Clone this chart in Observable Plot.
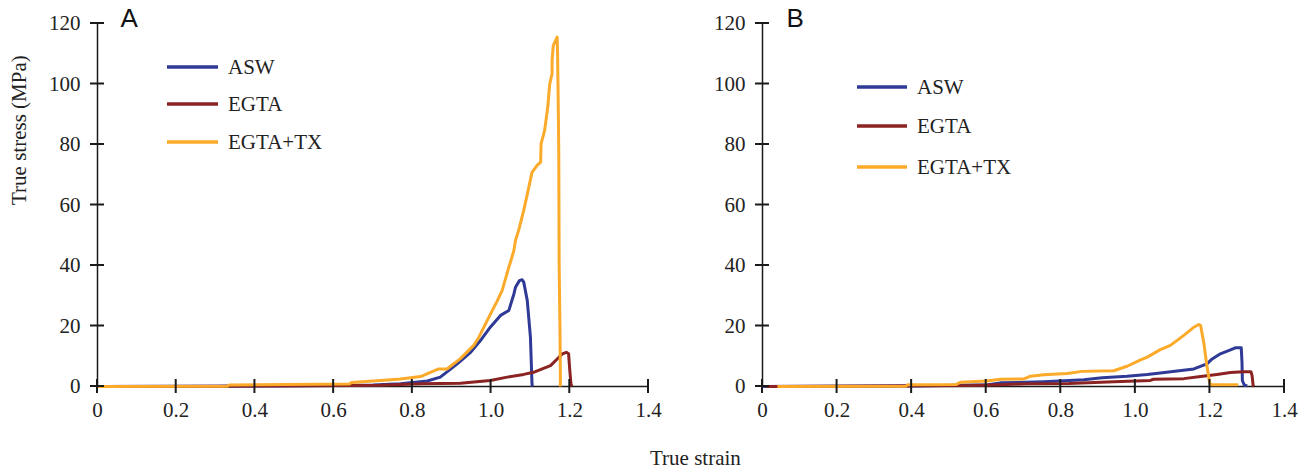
<!DOCTYPE html>
<html><head><meta charset="utf-8">
<script src="https://cdn.jsdelivr.net/npm/d3@7"></script>
<script src="https://cdn.jsdelivr.net/npm/@observablehq/plot@0.6"></script>
<style>
body{margin:0;background:#fff;}
#wrap{position:relative;width:1308px;height:475px;overflow:hidden;}
.panel{position:absolute;top:0;}
#xlabel{position:absolute;left:650px;top:446px;font-family:"Liberation Serif","Times New Roman",serif;font-size:21px;color:#222;white-space:nowrap;}
</style></head><body>
<div id="wrap">
  <div id="a" class="panel" style="left:0px"></div>
  <div id="b" class="panel" style="left:660px"></div>
  <div id="xlabel">True strain</div>
</div>
<script>
// ---- data: [true strain, true stress (MPa)] ----
const aswA = [[0,0],[0.3,0.1],[0.608,0.3],[0.70,0.5],[0.77,0.9],[0.838,1.8],[0.871,3.1],[0.914,7.5],[0.948,11.3],[0.973,15.2],[0.998,19.6],[1.024,23.5],[1.045,25.1],[1.058,30.6],[1.062,32.8],[1.072,35],[1.079,35.3],[1.083,34.5],[1.092,28.4],[1.1,16.3],[1.104,0.9],[1.105,0]];
const egtaA = [[0.01,0],[0.3,0.1],[0.64,0.3],[0.719,0.4],[0.823,0.9],[0.922,1.1],[0.998,2.0],[1.041,3.1],[1.083,4.0],[1.108,4.7],[1.13,5.8],[1.151,6.9],[1.168,9.1],[1.181,10.8],[1.191,11.3],[1.197,10.8],[1.2,5.3],[1.203,0.9],[1.205,0]];
const egtaTxA = [[0,0],[0.33,0.1],[0.335,0.5],[0.64,0.8],[0.646,1.3],[0.719,2.0],[0.77,2.5],[0.821,3.3],[0.846,4.7],[0.867,5.8],[0.888,5.8],[0.922,9.2],[0.956,13.6],[0.969,16.3],[0.99,21.8],[1.016,28.4],[1.028,31.7],[1.045,39.4],[1.049,41],[1.058,45],[1.062,48.3],[1.07,51.6],[1.083,58.2],[1.096,65.9],[1.104,70.8],[1.117,73.1],[1.126,74.2],[1.127,80.2],[1.136,84.6],[1.144,92.3],[1.149,100],[1.155,103.4],[1.155,107.8],[1.158,112.7],[1.168,115.5],[1.169,110],[1.171,90],[1.172,76.9],[1.173,40],[1.175,20],[1.176,5],[1.176,0]];

const aswB = [[0,0],[0.4,0.2],[0.604,0.6],[0.638,1.2],[0.754,1.6],[0.862,2.2],[0.911,2.9],[0.978,3.4],[1.032,4.0],[1.067,4.5],[1.112,5.1],[1.157,5.8],[1.192,7.5],[1.206,9.1],[1.228,10.8],[1.255,12.1],[1.268,12.8],[1.284,12.8],[1.286,8],[1.287,2],[1.292,0.5],[1.3,0.2]];
const egtaB = [[0.01,0],[0.562,0.3],[0.638,0.6],[0.71,0.9],[0.822,1.0],[0.942,1.6],[1.04,2.0],[1.049,2.4],[1.13,2.6],[1.175,3.3],[1.219,4.0],[1.255,4.6],[1.29,4.9],[1.31,4.9],[1.313,3.6],[1.316,0.3],[1.318,0]];
const egtaTxB = [[0.04,0],[0.385,0.1],[0.39,0.6],[0.52,0.7],[0.531,1.4],[0.60,1.8],[0.638,2.4],[0.701,2.5],[0.719,3.4],[0.754,3.9],[0.817,4.3],[0.857,5.0],[0.942,5.2],[0.978,6.7],[1.014,8.8],[1.032,9.7],[1.067,12.2],[1.094,13.6],[1.13,16.9],[1.157,19.6],[1.17,20.5],[1.175,20.2],[1.184,14.1],[1.191,7.5],[1.199,1.4],[1.203,0.6],[1.273,0.6],[1.275,0.4]];

const seriesNames = ["ASW", "EGTA", "EGTA+TX"];
const seriesColors = ["#2f3a97", "#8b2323", "#fbaa2a"];
const xTicks = [0, 0.2, 0.4, 0.6, 0.8, 1.0, 1.2, 1.4];
const yTicks = [0, 20, 40, 60, 80, 100, 120];
const xTickLabels = ["0", "0.2", "0.4", "0.6", "0.8", "1.0", "1.2", "1.4"];

const ink = "#1a1a1a";
const serif = '"Liberation Serif","Times New Roman",serif';
const sans = '"Liberation Sans",Arial,sans-serif';

function makePanel({el, width, marginLeft, marginRight, letter, letterDx, curves, ylabel, legend}) {
  const marks = [
    Plot.ruleY([0], {stroke: ink, strokeWidth: 1.5}),
    Plot.ruleX([0], {stroke: ink, strokeWidth: 1.5}),
    Plot.axisX({ticks: xTicks, tickSize: 0, tickPadding: 16, tickFormat: d => xTickLabels[xTicks.indexOf(d)], label: null, fontSize: 21, fontFamily: serif, fill: "#222"}),
    Plot.axisY({ticks: yTicks, tickSize: 0, tickPadding: 17, label: null, fontSize: 21, fontFamily: serif, fill: "#222"}),
    ...curves.map((c, i) => Plot.line(c, {x: d => d[0], y: d => d[1], stroke: seriesColors[i], strokeWidth: 3, strokeLinejoin: "round", strokeLinecap: "butt"})),
    Plot.text([letter], {frameAnchor: "top-left", dx: letterDx, dy: -5, textAnchor: "start", lineAnchor: "middle", fontFamily: sans, fontSize: 26, fill: "#111"})
  ];
  if (ylabel) marks.push(Plot.text([ylabel], {frameAnchor: "left", dx: -78, rotate: -90, fontSize: 21, fontFamily: serif, fill: "#222"}));
  const svg = Plot.plot({
    width, height: 426,
    marginLeft, marginRight, marginTop: 23, marginBottom: 40,
    x: {domain: [0, 1.4]},
    y: {domain: [0, 120]},
    style: {fontFamily: serif, fontSize: "21px", color: "#222", background: "transparent", overflow: "visible"},
    marks
  });
  // tick marks crossing the axes, placed with the plot's own scales
  const xs = svg.scale("x"), ys = svg.scale("y");
  const X = v => xs.apply(v), Y = v => ys.apply(v);
  const t = d3.select(svg).append("g");
  xTicks.forEach(v => t.append("path").attr("d", `M${X(v)},${Y(0) - 7}V${Y(0) + 7}`).attr("stroke", ink).attr("stroke-width", 2).attr("fill", "none"));
  yTicks.forEach(v => t.append("path").attr("d", `M${X(0) - 7},${Y(v)}H${X(0) + 7}`).attr("stroke", ink).attr("stroke-width", 2).attr("fill", "none"));
  const g = d3.select(svg).append("g").attr("text-anchor", "start");
  seriesNames.forEach((name, i) => {
    const y = legend.ys[i];
    g.append("line").attr("x1", legend.x0).attr("x2", legend.x1).attr("y1", y).attr("y2", y)
      .attr("stroke", seriesColors[i]).attr("stroke-width", 3.5);
    g.append("text").attr("x", legend.tx).attr("y", y).attr("dy", "0.35em").attr("text-anchor", "start")
      .attr("font-family", serif).attr("font-size", 21).attr("fill", "#222").text(name);
  });
  document.getElementById(el).appendChild(svg);
}

makePanel({el: "a", width: 660, marginLeft: 97, marginRight: 12, letter: "A", letterDx: 23,
  curves: [aswA, egtaA, egtaTxA], ylabel: "True stress (MPa)",
  legend: {x0: 167, x1: 218, tx: 228, ys: [67, 104, 142]}});
makePanel({el: "b", width: 648, marginLeft: 102, marginRight: 24, letter: "B", letterDx: 24,
  curves: [aswB, egtaB, egtaTxB], ylabel: null,
  legend: {x0: 197, x1: 247, tx: 257, ys: [87, 126, 167]}});
</script>
</body></html>
